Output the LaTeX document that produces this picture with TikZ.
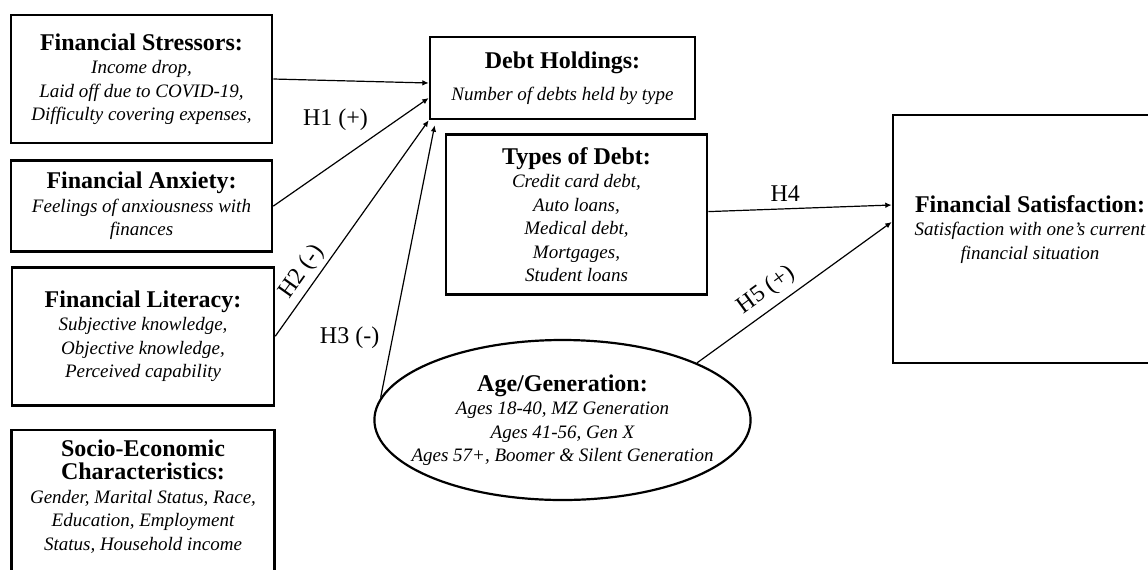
\documentclass[tikz,border=0pt]{standalone}
\usepackage{fontspec}
\setmainfont{Liberation Serif}
\usetikzlibrary{arrows.meta,positioning,shapes.geometric}
\newcommand{\vtitle}[1]{{\fontsize{12}{11.75}\selectfont\bfseries\upshape #1}}
\tikzset{
  var/.style ={rectangle, draw=black, line width=1.3pt, align=center,
               font=\fontsize{9.5}{11.75}\selectfont\itshape, inner sep=3pt},
  gen/.style ={var, ellipse, line width=1.1pt, inner xsep=-9pt, inner ysep=0pt},
  flow/.style={-{Latex[length=3.2pt,width=2.8pt]}, line width=0.6pt},
  hyp/.style ={font=\fontsize{12}{14}\selectfont},
}

\begin{document}
\begin{tikzpicture}[x=0.5pt, y=-0.5pt]
  \useasboundingbox (0,0) rectangle (1148,569);
  % left column
  \node[var, minimum width=130.5pt, minimum height=64pt] (stress) at (141.5,79)
    {\vtitle{Financial Stressors:}\\ Income drop,\\ Laid off due to COVID-19,\\ Difficulty covering expenses,};
  \node[var, minimum width=130.5pt, minimum height=45.5pt, below=7.5pt of stress] (anx)
    {\vtitle{Financial Anxiety:}\\ Feelings of anxiousness with\\ finances};
  \node[var, minimum width=131pt, minimum height=69pt, below=6.5pt of anx, xshift=0.75pt] (lit)
    {\vtitle{Financial Literacy:}\\ Subjective knowledge,\\ Objective knowledge,\\ Perceived capability};
  \node[var, minimum width=131.5pt, below=11pt of lit, inner ysep=5pt] (socio)
    {\vtitle{Socio-Economic}\\ \vtitle{Characteristics:}\\ Gender, Marital Status, Race,\\ Education, Employment\\ Status, Household income\\[40pt] ~};
  % middle
  \node[var, minimum width=132.5pt, minimum height=41pt] (debt) at (562.5,78)
    {\vtitle{Debt Holdings:}\\[4pt] Number of debts held by type};
  \node[var, minimum width=130.5pt, minimum height=80pt, below=6.5pt of debt, xshift=7pt] (types)
    {\vtitle{Types of Debt:}\\ Credit card debt,\\ Auto loans,\\ Medical debt,\\ Mortgages,\\ Student loans};
  \node[gen, minimum width=187.5pt, minimum height=80pt] (age) at (562.5,420)
    {\vtitle{Age/Generation:}\\ Ages 18-40, MZ Generation\\ Ages 41-56, Gen X\\ Ages 57+, Boomer \& Silent Generation};
  % outcome
  \node[var, minimum width=137pt, minimum height=124pt] (sat) at (1030,239)
    {\vtitle{Financial Satisfaction:}\\ Satisfaction with one’s current\\ financial situation\\ ~};
  % paths
  \draw[flow] (stress.east) -- ([yshift=-2.5pt]debt.west);
  \draw[flow] (anx.east) -- ([yshift=-10pt]debt.west)
    node[hyp, pos=0.4, above=12.5pt] {H1 (+)};
  \draw[flow] (lit.east) -- (debt.south west)
    node[hyp, pos=0.255, sloped, above, inner sep=2pt] {H2 (-)};
  \draw[flow] (age.173) -- ([xshift=3pt,yshift=-2.5pt]debt.south west)
    node[hyp, pos=0.22, left=3pt] {H3 (-)};
  \draw[flow] ([yshift=1.5pt]types.east) -- ([yshift=17pt]sat.west)
    node[hyp, pos=0.42, above] {H4};
  \draw[flow] (age.23) -- ([yshift=8.5pt]sat.west)
    node[hyp, pos=0.41, sloped, above] {H5 (+)};
\end{tikzpicture}
\end{document}
